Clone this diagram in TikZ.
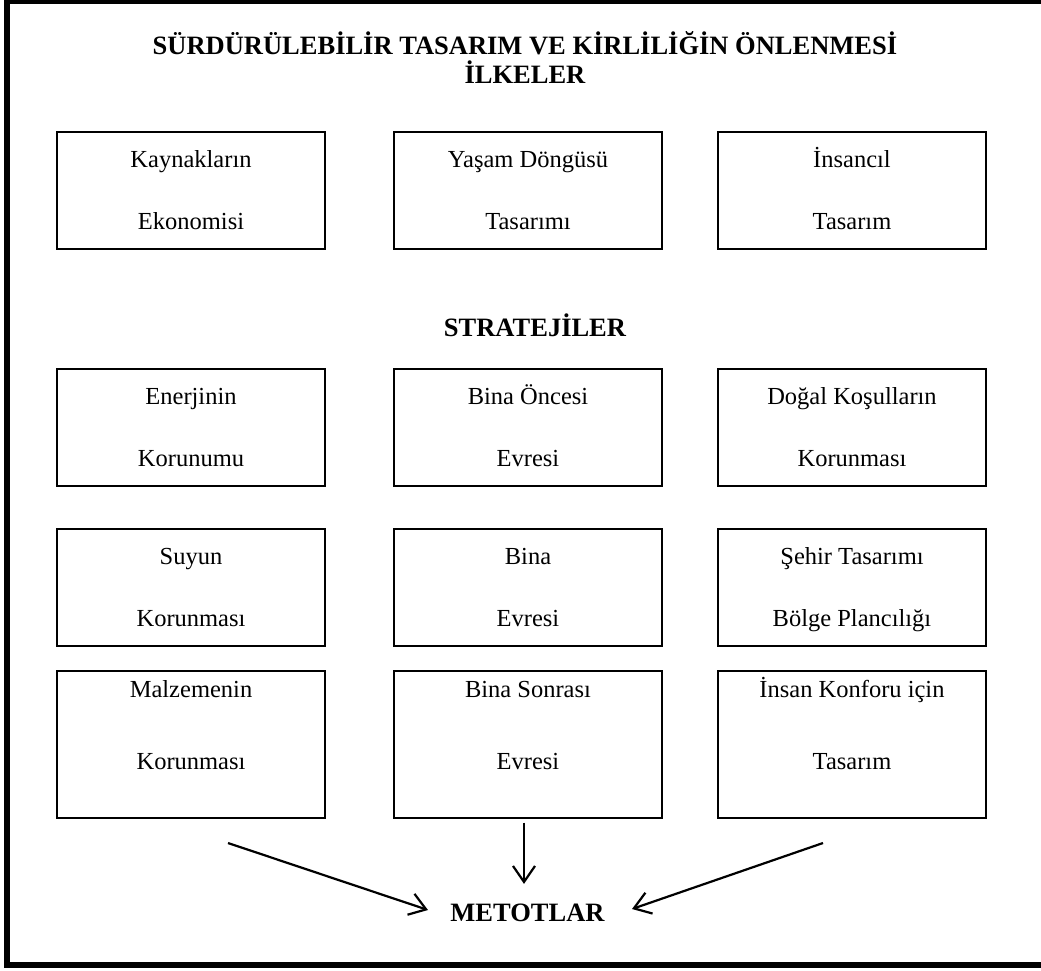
\documentclass[tikz,border=0pt]{standalone}
\usepackage{fontspec}
\setmainfont{Liberation Serif}
\usepackage{tikz}
\usetikzlibrary{arrows.meta}
\tikzstyle{box}=[draw, line width=1.3pt, minimum width=268pt, minimum height=117pt, inner sep=0pt, align=center, font=\fontsize{24.5}{62}\selectfont]
\tikzstyle{boxtall}=[box, minimum height=147pt, font=\fontsize{24.5}{72}\selectfont]
\tikzstyle{heading}=[inner sep=0pt, align=center, font=\fontsize{26.5}{29}\selectfont\bfseries]
\tikzstyle{arrow}=[draw=black, line width=2.2pt, -{Straight Barb[length=16pt, width=22pt, line width=2.2pt]}]
% two lines of a box, with fixed height and depth
\newcommand{\twolines}[3][7pt]{\rule{0pt}{23pt}#2\\#3\rule[-#1]{0pt}{#1}}

\begin{document}
\begin{tikzpicture}[x=1pt, y=-1pt]
		   \useasboundingbox (0,0) rectangle (1041,971);
		   \clip (0,0) rectangle (1041,971);
		   \draw [line width=6pt] (7,1.5) rectangle (1060,965);
		   \begin{scope}
			   \node (title) at (525,58)[heading] {SÜRDÜRÜLEBİLİR TASARIM VE KİRLİLİĞİN ÖNLENMESİ\\İLKELER};
			   \node (k1) at (191,190.5)[box] {\twolines{Kaynakların}{Ekonomisi}};
			   \node (k2) at (528,190.5)[box] {\twolines{Yaşam Döngüsü}{Tasarımı}};
			   \node (k3) at (852,190.5)[box] {\twolines{İnsancıl}{Tasarım}};
			   \node (strateji) at (535,325)[heading] {STRATEJİLER};
			   \node (s1) at (191,427.5)[box] {\twolines{Enerjinin}{Korunumu}};
			   \node (s2) at (528,427.5)[box] {\twolines{Bina Öncesi}{Evresi}};
			   \node (s3) at (852,427.5)[box] {\twolines{Doğal Koşulların}{Korunması}};
			   \node (s4) at (191,587.5)[box] {\twolines{Suyun}{Korunması}};
			   \node (s5) at (528,587.5)[box] {\twolines{Bina}{Evresi}};
			   \node (s6) at (852,587.5)[box] {\twolines{Şehir Tasarımı}{Bölge Plancılığı}};
			   \node (s7) at (191,744.5)[boxtall] {\twolines[46pt]{Malzemenin}{Korunması}};
			   \node (s8) at (528,744.5)[boxtall] {\twolines[46pt]{Bina Sonrası}{Evresi}};
			   \node (s9) at (852,744.5)[boxtall] {\twolines[46pt]{İnsan Konforu için}{Tasarım}};
			   \node (metot) at (527.5,913)[heading] {METOTLAR};
		   \end{scope}
		   \begin{scope}
			   \coordinate (a1) at (228,843);
			   \coordinate (a3) at (823,843);
			   \coordinate (m1) at (428,910);
			   \coordinate (m3) at (632,909);
			   \draw [arrow] (a1) -- (m1);
			   \draw [arrow] ([xshift=-4pt, yshift=-4pt]s8.south) -- ([xshift=-3.5pt, yshift=20pt]metot.north);
			   \draw [arrow] (a3) -- (m3);
		   \end{scope}
	   \end{tikzpicture}
\end{document}
